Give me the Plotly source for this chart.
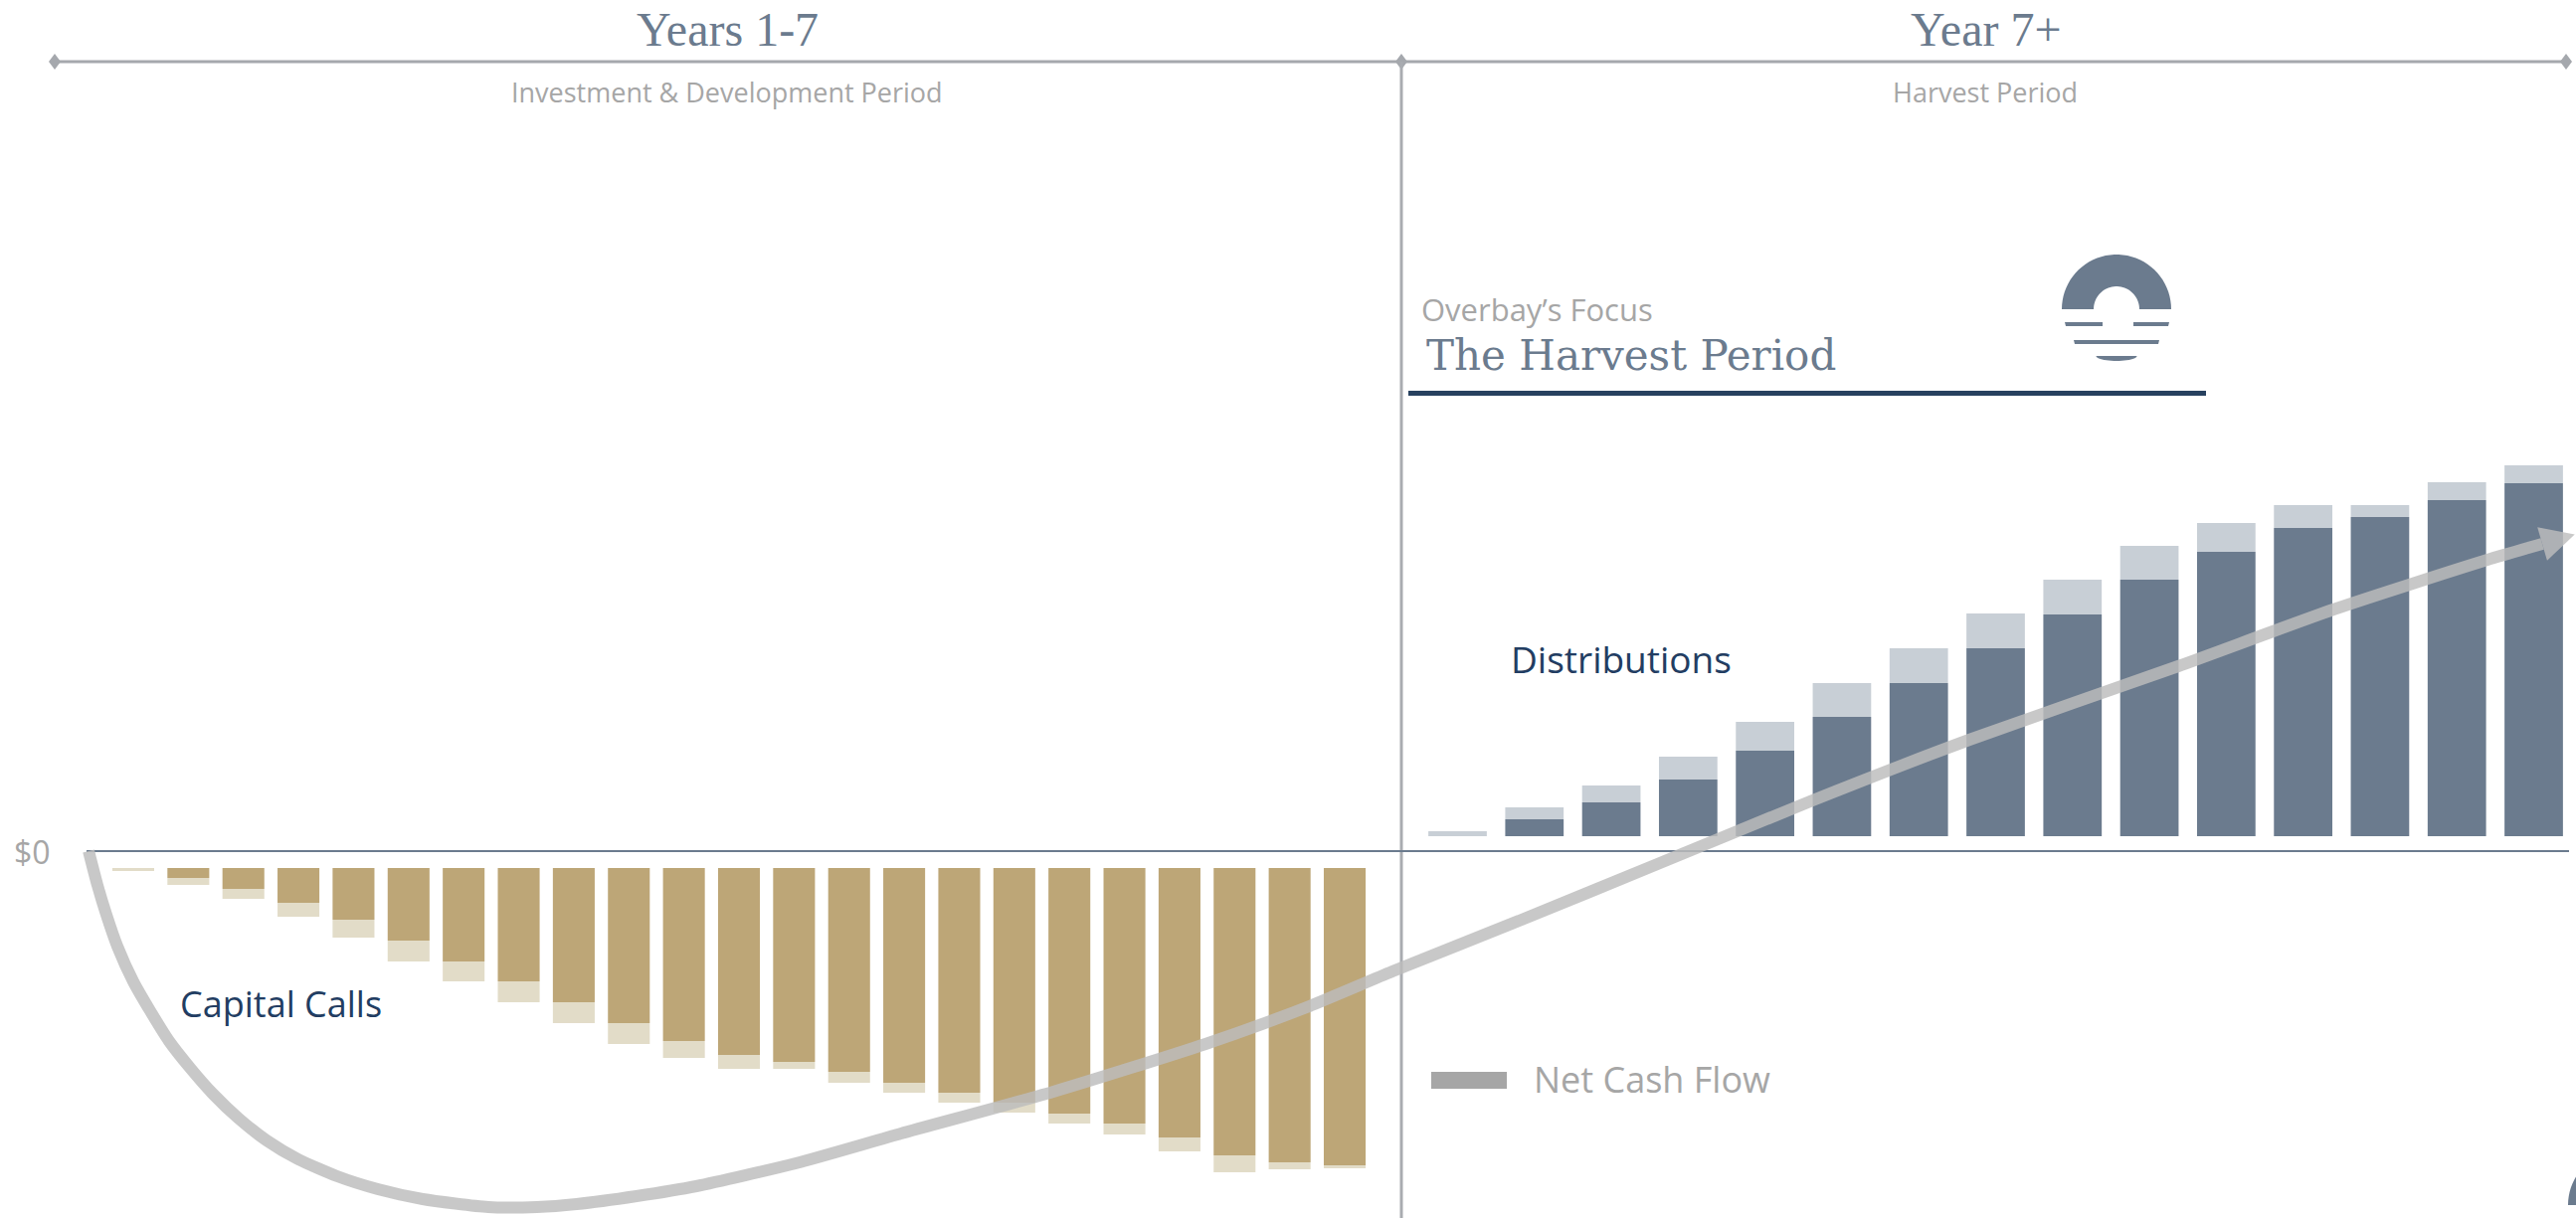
import numpy as np
import plotly.graph_objects as go

W, H = 2590, 1225

# ---------------- data (arbitrary $ units) ----------------
CALL_PERIODS = list(range(1, 24))
CALLS_CORE = [0.0, 1.0, 2.1, 3.5, 5.2, 7.3, 9.4, 11.4, 13.5, 15.6, 17.4, 18.8,
              19.5, 20.5, 21.6, 22.6, 23.6, 24.7, 25.7, 27.1, 28.9, 29.6, 29.9]
CALLS_EXTRA = [0.3, 0.7, 1.0, 1.4, 1.8, 2.1, 2.0, 2.1, 2.1, 2.1, 1.7, 1.4,
               0.7, 1.1, 1.0, 1.0, 1.0, 1.0, 1.1, 1.4, 1.7, 0.7, 0.3]

DIST_PERIODS = list(range(1, 16))
DIST_CORE = [0.0, 1.7, 3.4, 5.7, 8.6, 12.0, 15.4, 18.9, 22.3, 25.8, 28.6,
             31.0, 32.1, 33.8, 35.5]
DIST_EXTRA = [0.5, 1.2, 1.7, 2.3, 2.9, 3.4, 3.5, 3.5, 3.5, 3.4, 2.9, 2.3,
              1.2, 1.8, 1.8]

# net cash flow curve: position along the timeline (0-100) and value
NET_T = [3.44, 3.78, 4.13, 4.56, 5.17, 5.79, 6.56, 7.41, 8.26, 9.27, 10.35,
         11.58, 13.09, 14.67, 16.41, 18.96, 20.85, 22.39, 24.71, 27.03,
         30.89, 34.98, 40.89, 46.80, 50.73, 54.05, 59.07, 64.25, 70.27,
         76.45, 84.56, 90.58, 96.56, 98.69]
NET_V = [0.0, -3.4, -6.4, -9.6, -13.1, -15.9, -19.1, -21.9, -24.4, -26.9,
         -29.1, -31.0, -32.7, -34.0, -35.0, -35.8, -35.8, -35.5, -34.7,
         -33.7, -31.4, -28.4, -24.2, -19.4, -15.7, -12.1, -6.9, -1.4, 5.0,
         11.2, 18.6, 24.3, 29.3, 30.9]

HEADERS = ["Years 1-7", "Year 7+"]
SUBHEADERS = ["Investment & Development Period", "Harvest Period"]

# ---------------- styling ----------------
TAN = "#bda677"
TAN_LIGHT = "#e2dcc8"
SLATE = "#6b7b8e"
SLATE_LIGHT = "#c8cfd6"
GRAY_TXT = "#a6a6a6"
NAVY = "#223d62"
CURVE = "#bdbdbd"
GAP_NEG = 1.7
GAP_POS = 1.5
Y_RANGE = [-36.9, 85.6]
T_RANGE = [0, 100]


def px(x, y):
    return x / W, 1 - y / H


def poly(points):
    s = ""
    for i, (x, y) in enumerate(points):
        a, b = px(x, y)
        s += ("M" if i == 0 else "L") + f"{a:.6f},{b:.6f}"
    return s + "Z"


fig = go.Figure()

# capital calls (negative)
fig.add_trace(go.Bar(
    x=CALL_PERIODS, y=[-v for v in CALLS_CORE], base=-GAP_NEG,
    marker=dict(color=TAN, line=dict(width=0)), xaxis="x", yaxis="y",
    width=0.76, showlegend=False, hoverinfo="skip"))
fig.add_trace(go.Bar(
    x=CALL_PERIODS, y=[-v for v in CALLS_EXTRA],
    base=[-GAP_NEG - c for c in CALLS_CORE],
    marker=dict(color=TAN_LIGHT, line=dict(width=0)), xaxis="x", yaxis="y",
    width=0.76, showlegend=False, hoverinfo="skip"))

# distributions (positive)
fig.add_trace(go.Bar(
    x=DIST_PERIODS, y=DIST_CORE, base=GAP_POS,
    marker=dict(color=SLATE, line=dict(width=0)), xaxis="x2", yaxis="y",
    width=0.76, showlegend=False, hoverinfo="skip"))
fig.add_trace(go.Bar(
    x=DIST_PERIODS, y=DIST_EXTRA, base=[GAP_POS + d for d in DIST_CORE],
    marker=dict(color=SLATE_LIGHT, line=dict(width=0)), xaxis="x2", yaxis="y",
    width=0.76, showlegend=False, hoverinfo="skip"))

# net cash flow curve
fig.add_trace(go.Scatter(
    x=NET_T, y=NET_V, xaxis="x3", yaxis="y", mode="lines",
    line=dict(color=CURVE, width=12, shape="spline", smoothing=0.6),
    opacity=0.82, showlegend=False, hoverinfo="skip"))

# arrow head at the end of the curve (computed in pixel space)
sx = W / (T_RANGE[1] - T_RANGE[0])
sy = H / (Y_RANGE[1] - Y_RANGE[0])
bx, by = NET_T[-1] * sx, -NET_V[-1] * sy
qx, qy = NET_T[-2] * sx, -NET_V[-2] * sy
dvec = np.array([bx - qx, by - qy])
dvec = dvec / np.linalg.norm(dvec)
nvec = np.array([-dvec[1], dvec[0]])
base = np.array([bx, by])
HEAD_LEN, HEAD_HALF = 34, 17.5
tip = base + HEAD_LEN * dvec
c1 = base + HEAD_HALF * nvec
c2 = base - HEAD_HALF * nvec
head = [tip, c1, c2, tip]
fig.add_trace(go.Scatter(
    x=[p[0] / sx for p in head], y=[-p[1] / sy for p in head],
    xaxis="x3", yaxis="y", mode="lines", fill="toself",
    fillcolor=CURVE, line=dict(width=0, color=CURVE),
    opacity=0.82, showlegend=False, hoverinfo="skip"))

shapes = []
# top timeline line + diamonds
x0, y0 = px(55, 62)
x1, _ = px(2580, 62)
shapes.append(dict(type="line", xref="paper", yref="paper", x0=x0, x1=x1,
                   y0=y0, y1=y0, line=dict(color="#a5a8ad", width=3),
                   layer="below"))
for dx in (55, 1409, 2580):
    shapes.append(dict(type="path", xref="paper", yref="paper",
                       path=poly([(dx, 54), (dx + 6, 62), (dx, 70), (dx - 6, 62)]),
                       fillcolor="#a5a8ad", line=dict(width=0), layer="below"))
# vertical divider
dx0, dy0 = px(1409, 62)
_, dy1 = px(1409, 1225)
shapes.append(dict(type="line", xref="paper", yref="paper", x0=dx0, x1=dx0,
                   y0=dy0, y1=dy1, line=dict(color="#a9acb1", width=3),
                   layer="below"))
# zero line
shapes.append(dict(type="line", xref="paper", yref="y", x0=87 / W,
                   x1=2583 / W, y0=0, y1=0,
                   line=dict(color=SLATE, width=2), layer="below"))
# navy underline
shapes.append(dict(type="rect", xref="paper", yref="paper",
                   x0=1416 / W, x1=2218 / W, y0=1 - 398 / H, y1=1 - 393 / H,
                   fillcolor="#27415f", line=dict(width=0)))
# legend swatch
shapes.append(dict(type="rect", xref="paper", yref="paper",
                   x0=1439 / W, x1=1515 / W, y0=1 - 1095 / H, y1=1 - 1078 / H,
                   fillcolor=GRAY_TXT, line=dict(width=0)))


def logo(cx, cy, scale=1.0):
    out = []
    ang = np.linspace(np.pi, 0, 40)
    ro, ri = 55 * scale, 23 * scale
    outer = [(cx + ro * np.cos(a), cy - ro * np.sin(a)) for a in ang]
    inner = [(cx + ri * np.cos(a), cy - ri * np.sin(a)) for a in ang[::-1]]
    out.append(poly(outer + inner))
    out.append(poly([(cx - 52 * scale, cy + 13 * scale), (cx - 14 * scale, cy + 13 * scale),
                     (cx - 14 * scale, cy + 17 * scale), (cx - 51 * scale, cy + 17 * scale)]))
    out.append(poly([(cx + 17 * scale, cy + 13 * scale), (cx + 53 * scale, cy + 13 * scale),
                     (cx + 52 * scale, cy + 17 * scale), (cx + 17 * scale, cy + 17 * scale)]))
    out.append(poly([(cx - 43 * scale, cy + 31 * scale), (cx + 43 * scale, cy + 31 * scale),
                     (cx + 42 * scale, cy + 35 * scale), (cx - 42 * scale, cy + 35 * scale)]))
    a2 = np.linspace(0, np.pi, 25)
    bottom = [(cx + 20.5 * scale * np.cos(a), cy + 47 * scale + 5 * scale * np.sin(a)) for a in a2]
    out.append(poly(bottom))
    return out


for p in logo(2128, 311):
    shapes.append(dict(type="path", xref="paper", yref="paper", path=p,
                       fillcolor=SLATE, line=dict(width=0)))
# partially visible logo at the bottom-right corner
for p in logo(2637, 1212, 1.0)[:2]:
    shapes.append(dict(type="path", xref="paper", yref="paper", path=p,
                       fillcolor=SLATE, line=dict(width=0)))

annotations = []


def txt(text, x, y, size, color, family, xanchor="center"):
    a, b = px(x, y)
    annotations.append(dict(text=text, x=a, y=b, xref="paper", yref="paper",
                            xanchor=xanchor, yanchor="middle", showarrow=False,
                            font=dict(size=size, color=color, family=family)))


txt(HEADERS[0], 731, 30, 48, SLATE, "Liberation Serif")
txt(HEADERS[1], 1997, 30, 48, SLATE, "Liberation Serif")
txt(SUBHEADERS[0], 731, 92.5, 27, GRAY_TXT, "Open Sans")
txt(SUBHEADERS[1], 1996, 92.5, 27, GRAY_TXT, "Open Sans")
txt("Overbay’s Focus", 1427, 311, 31, GRAY_TXT, "Open Sans", "left")
txt("The Harvest Period", 1432, 357.5, 42, SLATE, "DejaVu Serif", "left")
txt("Distributions", 1517, 662.5, 37, NAVY, "Open Sans", "left")
txt("Capital Calls", 179, 1009, 36, NAVY, "Open Sans", "left")
txt("Net Cash Flow", 1540, 1085, 36, GRAY_TXT, "Open Sans", "left")
txt("$0", 53, 856.5, 32, GRAY_TXT, "Open Sans", "right")

fig.update_layout(
    width=W, height=H, margin=dict(l=0, r=0, t=0, b=0, pad=0),
    paper_bgcolor="white", plot_bgcolor="rgba(0,0,0,0)",
    barmode="overlay", bargap=0.24,
    xaxis=dict(domain=[106.3 / W, 1379.7 / W], range=[0.5, 23.5], visible=False,
               anchor="y"),
    xaxis2=dict(domain=[1426.85 / W, 2586.15 / W], range=[0.5, 15.5],
                visible=False, anchor="y"),
    xaxis3=dict(domain=[0, 1], range=T_RANGE, visible=False, anchor="y"),
    yaxis=dict(domain=[0, 1], range=Y_RANGE, visible=False),
    shapes=shapes, annotations=annotations, showlegend=False,
)

fig.write_html("out.html")
